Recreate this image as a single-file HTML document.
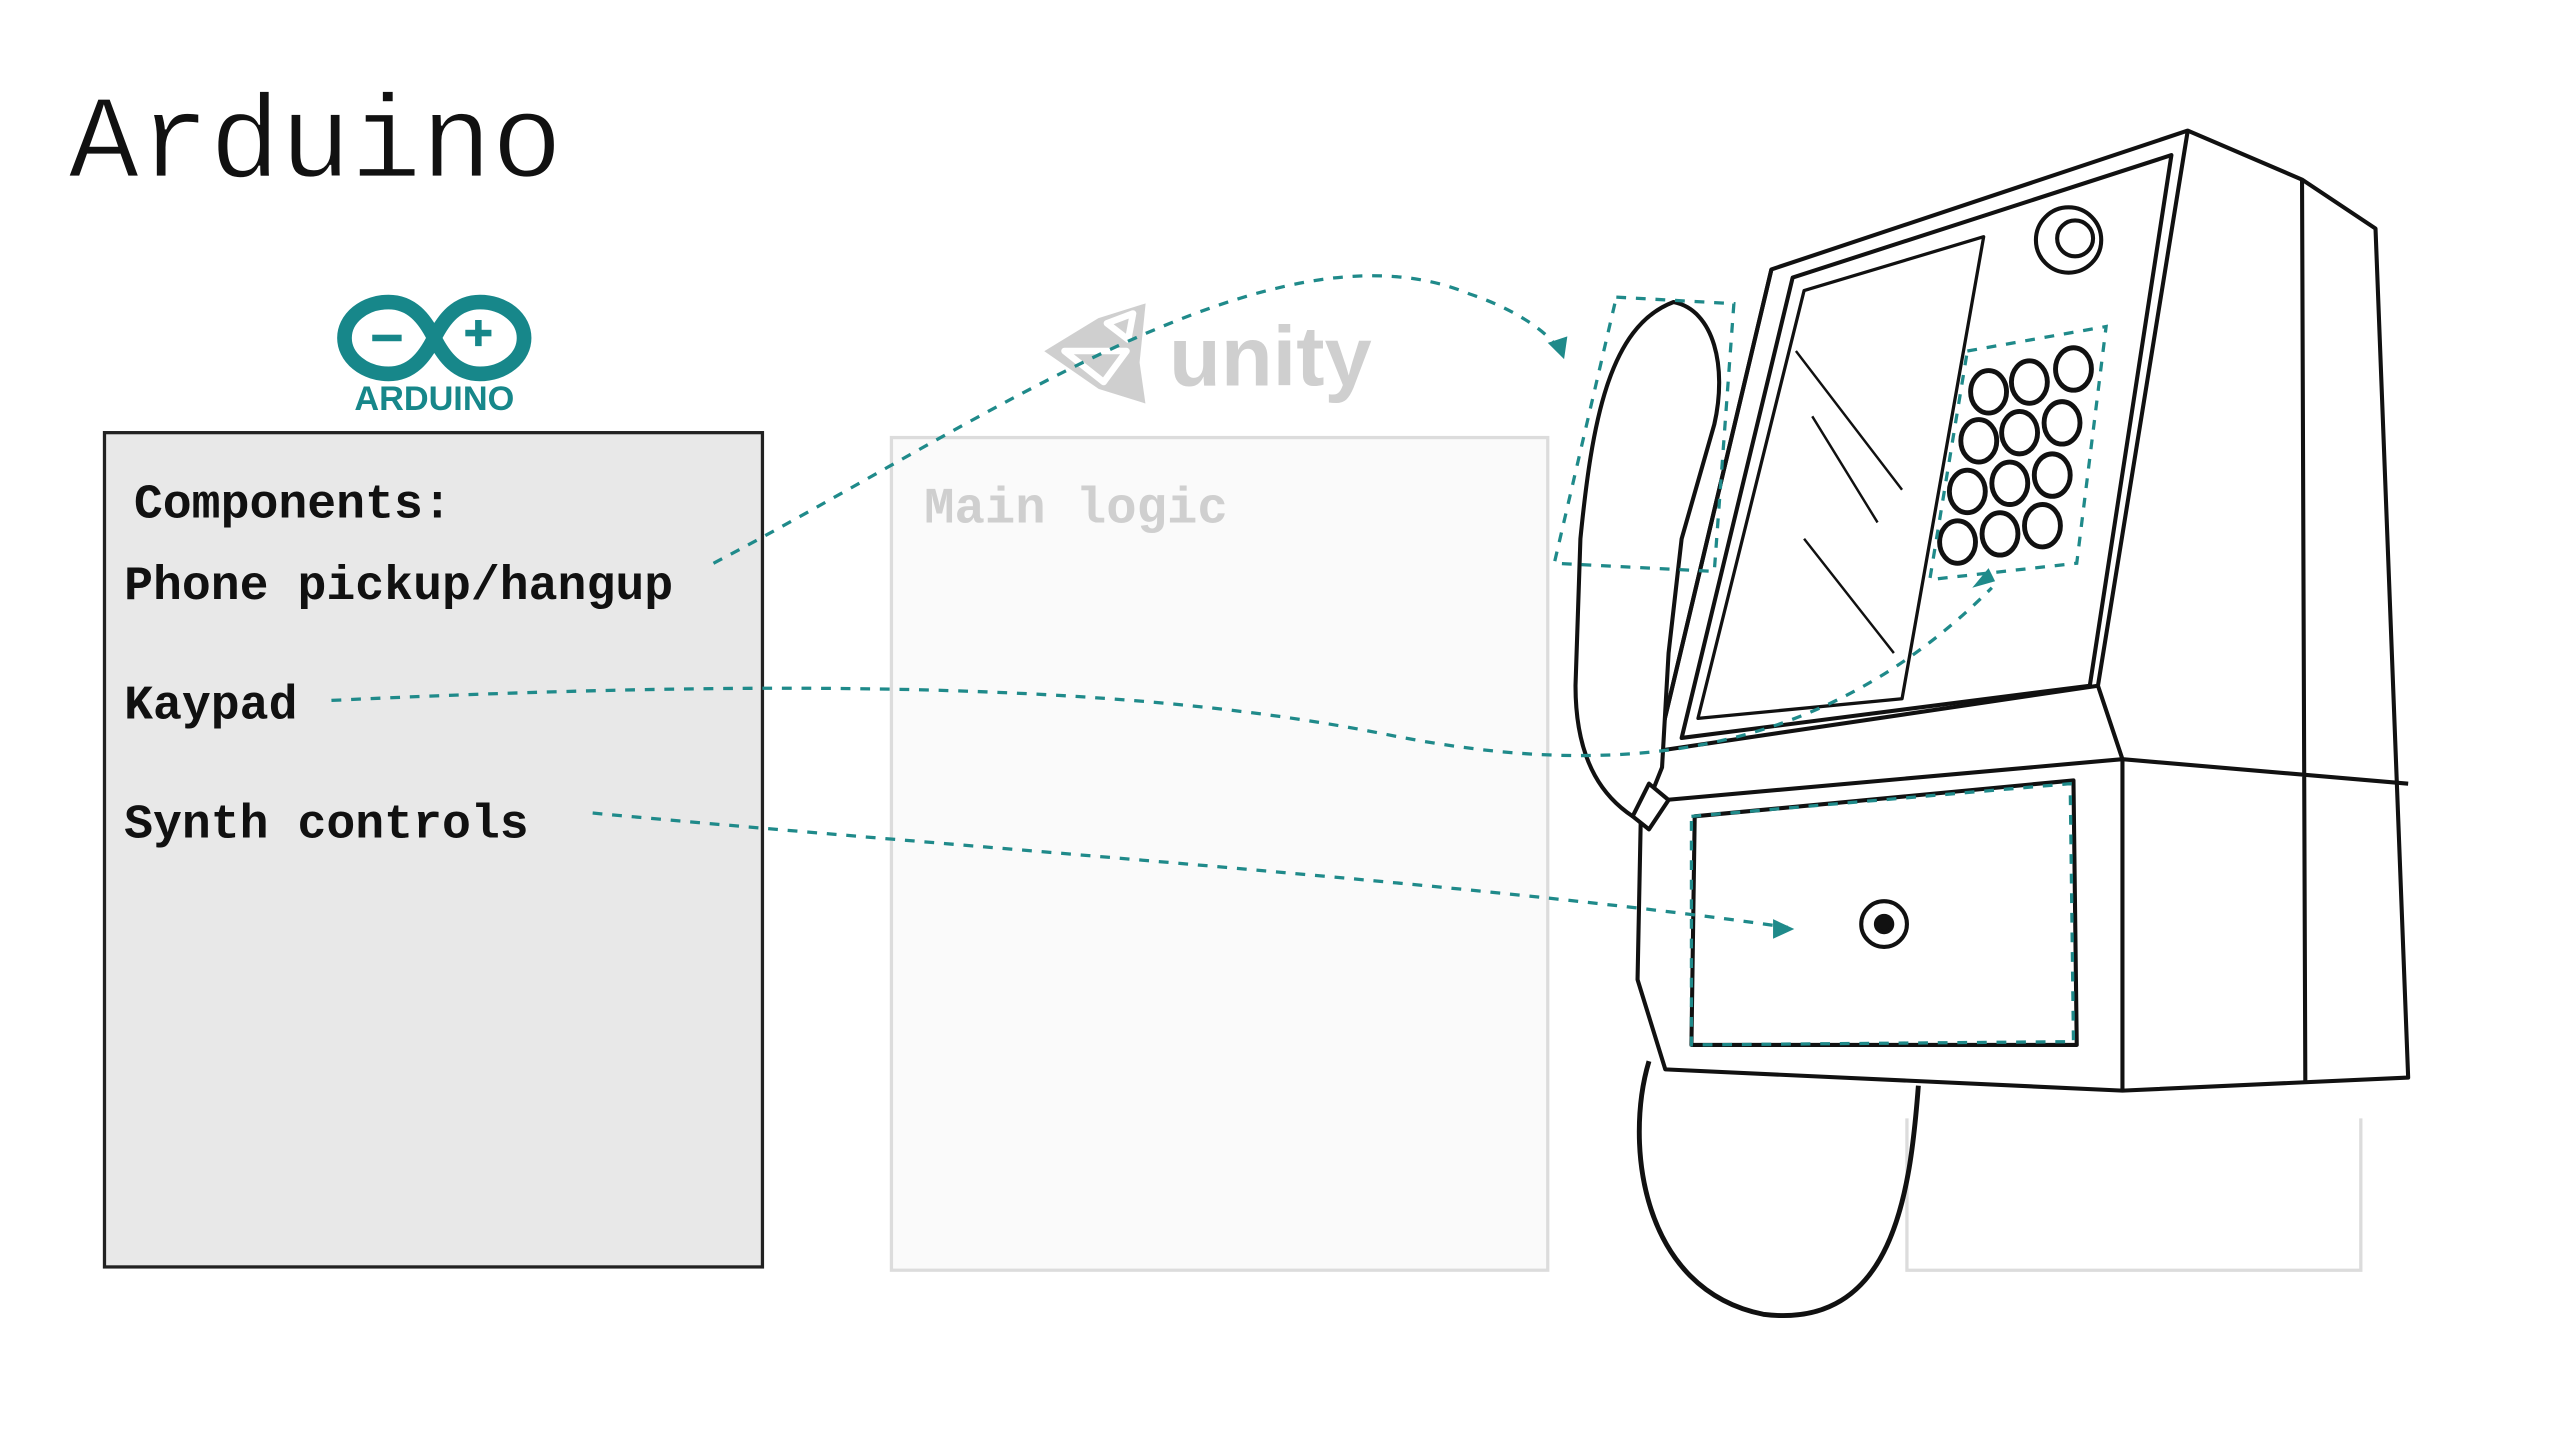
<!DOCTYPE html>
<html><head><meta charset="utf-8"><style>
html,body{margin:0;padding:0;background:#fff;width:2560px;height:1440px;overflow:hidden}
svg{display:block}
.mono{font-family:"Liberation Mono","DejaVu Sans Mono",monospace}
</style></head><body>
<svg width="2560" height="1440" viewBox="0 0 1568 882" xmlns="http://www.w3.org/2000/svg">
<rect width="1568" height="882" fill="#fff"/>
<text x="42" y="108" class="mono" font-size="72" fill="#111" stroke="#fff" stroke-width="1">Arduino</text>

<g>
 <path d="M238,185 a27,22 0 1,0 0,44 c14,0 22,-10 28,-22 c6,-12 14,-22 28,-22 a27,22 0 1,1 0,44 c-14,0 -22,-10 -28,-22 c-6,-12 -14,-22 -28,-22z" fill="none" stroke="#17878a" stroke-width="9"/>
 <rect x="228" y="205" width="18" height="4" fill="#17878a"/>
 <rect x="285" y="202" width="16" height="4" fill="#17878a"/><rect x="291" y="196" width="4" height="16" fill="#17878a"/>
 <text x="266" y="251" text-anchor="middle" font-family="Liberation Sans,sans-serif" font-weight="bold" font-size="21" fill="#17878a">ARDUINO</text>
</g>

<g fill="#cfcfcf">
 <path d="M636,215 L672,193 L704,183 L700,222 L704,250 L672,240 Z M652,215 L690,215 L676,234 Z M678,198 L694,192 L691,208 Z" fill="#cfcfcf" stroke="#fff" stroke-width="4" stroke-linejoin="round"/>
 <text x="716" y="236" font-family="Liberation Sans,sans-serif" font-weight="bold" font-size="52" fill="#cfcfcf">unity</text>
</g>

<rect x="546" y="268" width="402" height="510" fill="#fafafa" stroke="#dcdcdc" stroke-width="2"/>
<text x="566" y="320" class="mono" font-size="31" font-weight="bold" fill="#cfcfcf">Main logic</text>
<path d="M1168,685 V778 H1446 V685" fill="none" stroke="#dcdcdc" stroke-width="2"/>

<rect x="64" y="265" width="403" height="511" fill="#e8e8e8" stroke="#222" stroke-width="2"/>
<g class="mono" font-size="29.5" font-weight="bold" fill="#111">
 <text x="82" y="317">Components:</text>
 <text x="76" y="367">Phone pickup/hangup</text>
 <text x="76" y="440">Kaypad</text>
 <text x="76" y="513">Synth controls</text>
</g>

<g fill="none" stroke="#111" stroke-width="2.5" stroke-linejoin="round">
 <path d="M1085,165 L1340,80 L1410,110 L1455,140 L1475,660 L1300,668 L1020,655 L1003,600 L1005,500 L1015,460 Z" fill="#fff"/>
 <path d="M1085,165 L1015,460 M1340,80 L1285,420 L1300,465 L1475,480 M1410,110 L1412,662"/>
 <path d="M1015,460 L1285,420 M1300,465 L1300,668 M1020,490 L1300,465"/>
 <path d="M1098,170 L1330,95 L1280,420 L1030,452 Z"/>
 <path d="M1105,178 L1215,145 L1165,428 L1040,440 Z" stroke-width="2"/>
 <path d="M1100,215 L1165,300 M1110,255 L1150,320 M1105,330 L1160,400" stroke-width="1.5"/>
 <circle cx="1267" cy="147" r="20"/><circle cx="1271" cy="146" r="11"/>
 <g stroke-width="3">
  <ellipse cx="1218" cy="240" rx="11" ry="13"/><ellipse cx="1243" cy="234" rx="11" ry="13"/><ellipse cx="1270" cy="226" rx="11" ry="13"/>
  <ellipse cx="1212" cy="270" rx="11" ry="13"/><ellipse cx="1237" cy="265" rx="11" ry="13"/><ellipse cx="1263" cy="259" rx="11" ry="13"/>
  <ellipse cx="1205" cy="301" rx="11" ry="13"/><ellipse cx="1231" cy="296" rx="11" ry="13"/><ellipse cx="1257" cy="291" rx="11" ry="13"/>
  <ellipse cx="1199" cy="332" rx="11" ry="13"/><ellipse cx="1225" cy="327" rx="11" ry="13"/><ellipse cx="1251" cy="322" rx="11" ry="13"/>
 </g>
 <path d="M1038,500 L1270,478 L1272,640 L1036,640 Z"/>
 <circle cx="1154" cy="566" r="14"/><circle cx="1154" cy="566" r="5" fill="#111"/>
 <path d="M1025,185 C1050,190 1058,225 1050,260 L1030,330 L1022,400 L1018,470 L1010,490 L1000,500 C985,490 965,470 965,420 L968,330 C975,260 985,200 1025,185 Z" fill="#fff"/>
 <path d="M1000,500 L1010,508 L1022,490 L1010,480 Z" fill="#fff"/>
 <path d="M1010,650 C995,700 1005,790 1080,805 C1160,815 1170,730 1175,665" stroke-width="3"/>
</g>

<g fill="none" stroke="#1f8a8a" stroke-width="2" stroke-dasharray="6,6">
 <path d="M437,345 C600,260 780,130 900,180 C930,190 950,205 955,215"/>
 <path d="M203,429 C500,415 700,420 850,450 C1000,480 1120,460 1220,360"/>
 <path d="M363,498 C600,520 900,540 1095,568"/>
 <path d="M990,182 L1062,186 L1050,350 L952,345 Z"/>
 <path d="M1205,215 L1290,200 L1272,345 L1182,355 Z"/>
 <path d="M1036,500 L1268,480 L1270,638 L1036,640 Z"/>
</g>
<g fill="#1f8a8a">
 <path d="M958,220 L948,210 L960,206 Z"/>
 <path d="M1222,356 L1208,360 L1218,348 Z"/>
 <path d="M1099,569 L1086,563 L1086,575 Z"/>
</g>
</svg>
</body></html>
